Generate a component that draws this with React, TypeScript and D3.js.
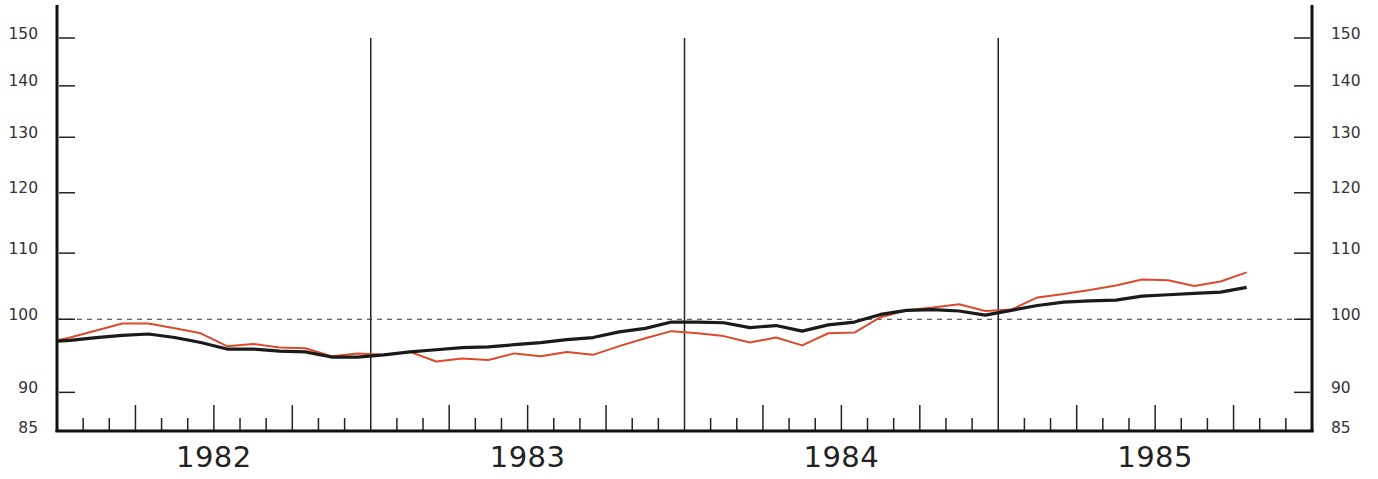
import React from "react";
import * as d3 from "d3";

// Months counted from Jan 1982 (0) ; values plotted at month centres
const monthIndex: number[] = d3.range(-1, 46);
const seriesBlack: number[] = [
  96.8, 97.0, 97.4, 97.7, 97.9, 97.4, 96.7, 95.8, 95.8, 95.5, 95.4, 94.7, 94.7,
  95.0, 95.4, 95.7, 96.0, 96.1, 96.4, 96.7, 97.1, 97.4, 98.2, 98.7, 99.6,
  99.6, 99.5, 98.8, 99.1, 98.3, 99.2, 99.6, 100.7, 101.3, 101.4, 101.2, 100.6,
  101.3, 102.0, 102.5, 102.7, 102.8, 103.4, 103.6, 103.8, 104.0, 104.7,
];
const seriesRed: number[] = [
  96.6, 97.4, 98.4, 99.4, 99.4, 98.7, 98.0, 96.2, 96.5, 96.0, 95.9, 94.8, 95.2,
  95.0, 95.4, 94.1, 94.5, 94.3, 95.2, 94.8, 95.4, 95.0, 96.2, 97.3, 98.3,
  98.0, 97.6, 96.7, 97.4, 96.3, 98.0, 98.1, 100.3, 101.3, 101.7, 102.2, 101.2,
  101.4, 103.2, 103.7, 104.3, 105.0, 105.9, 105.8, 104.9, 105.6, 107.0,
];
const yTicks: number[] = [85, 90, 100, 110, 120, 130, 140, 150];
const years: string[] = ["1982", "1983", "1984", "1985"];
const baseline = 100;

const W = 1378;
const H = 479;
const left = 57;
const right = 1312;
const top = 5;
const bottom = 432;

export default function App() {
  const x = d3.scaleLinear().domain([0, 48]).range([left, right]);
  const y = d3.scaleLog().domain([85, 150]).range([bottom, 38]);

  const line = d3
    .line<number>()
    .x((_, i) => x(monthIndex[i] + 0.5))
    .y((d) => y(d));

  const months = d3.range(1, 48);
  const font = "'DejaVu Sans', Verdana, sans-serif";

  return (
    <svg
      width={W}
      height={H}
      style={{ position: "absolute", left: 0, top: 0, background: "#fff" }}
    >
      <defs>
        <clipPath id="plot">
          <rect x={left} y={0} width={right - left} height={bottom} />
        </clipPath>
      </defs>

      {/* baseline dashed */}
      <line
        x1={left}
        x2={right}
        y1={y(baseline)}
        y2={y(baseline)}
        stroke="#333"
        strokeWidth={1}
        strokeDasharray="5,5"
      />

      {/* month ticks */}
      {months.map((m) => {
        if (m % 12 === 0) {
          return (
            <line
              key={m}
              x1={x(m)}
              x2={x(m)}
              y1={y(150)}
              y2={bottom}
              stroke="#222"
              strokeWidth={1.5}
            />
          );
        }
        const long = m % 3 === 0;
        return (
          <line
            key={m}
            x1={x(m)}
            x2={x(m)}
            y1={bottom - (long ? 27 : 14)}
            y2={bottom}
            stroke="#222"
            strokeWidth={1.5}
          />
        );
      })}

      {/* y ticks both sides */}
      {yTicks.map((t) => (
        <g key={t}>
          {t !== 85 && (
            <>
              <line x1={left + 2} x2={left + 18} y1={y(t)} y2={y(t)} stroke="#222" strokeWidth={1.5} />
              <line x1={right - 18} x2={right - 2} y1={y(t)} y2={y(t)} stroke="#222" strokeWidth={1.5} />
            </>
          )}
          <text
            x={38}
            y={y(t) - 4}
            textAnchor="end"
            dominantBaseline="middle"
            fontFamily={font}
            fontSize={15.5}
            fill="#333"
          >
            {t}
          </text>
          <text
            x={1331}
            y={y(t) - 4}
            textAnchor="start"
            dominantBaseline="middle"
            fontFamily={font}
            fontSize={15.5}
            fill="#333"
          >
            {t}
          </text>
        </g>
      ))}

      {/* series */}
      <g clipPath="url(#plot)">
        <path d={line(seriesRed) || ""} fill="none" stroke="#dc4a2c" strokeWidth={2} strokeLinejoin="round" />
        <path d={line(seriesBlack) || ""} fill="none" stroke="#1a1a1a" strokeWidth={3.2} strokeLinejoin="round" />
      </g>

      {/* axes */}
      <line x1={left} x2={left} y1={top} y2={bottom} stroke="#111" strokeWidth={3} />
      <line x1={right} x2={right} y1={top} y2={bottom} stroke="#111" strokeWidth={3} />
      <line x1={left - 1.5} x2={right + 1.5} y1={bottom - 1} y2={bottom - 1} stroke="#111" strokeWidth={3} />

      {/* year labels */}
      {years.map((yr, i) => (
        <text
          key={yr}
          x={x(i * 12 + 6)}
          y={467}
          textAnchor="middle"
          fontFamily={font}
          fontSize={29}
          letterSpacing={0.5}
          fill="#222"
        >
          {yr}
        </text>
      ))}
    </svg>
  );
}
